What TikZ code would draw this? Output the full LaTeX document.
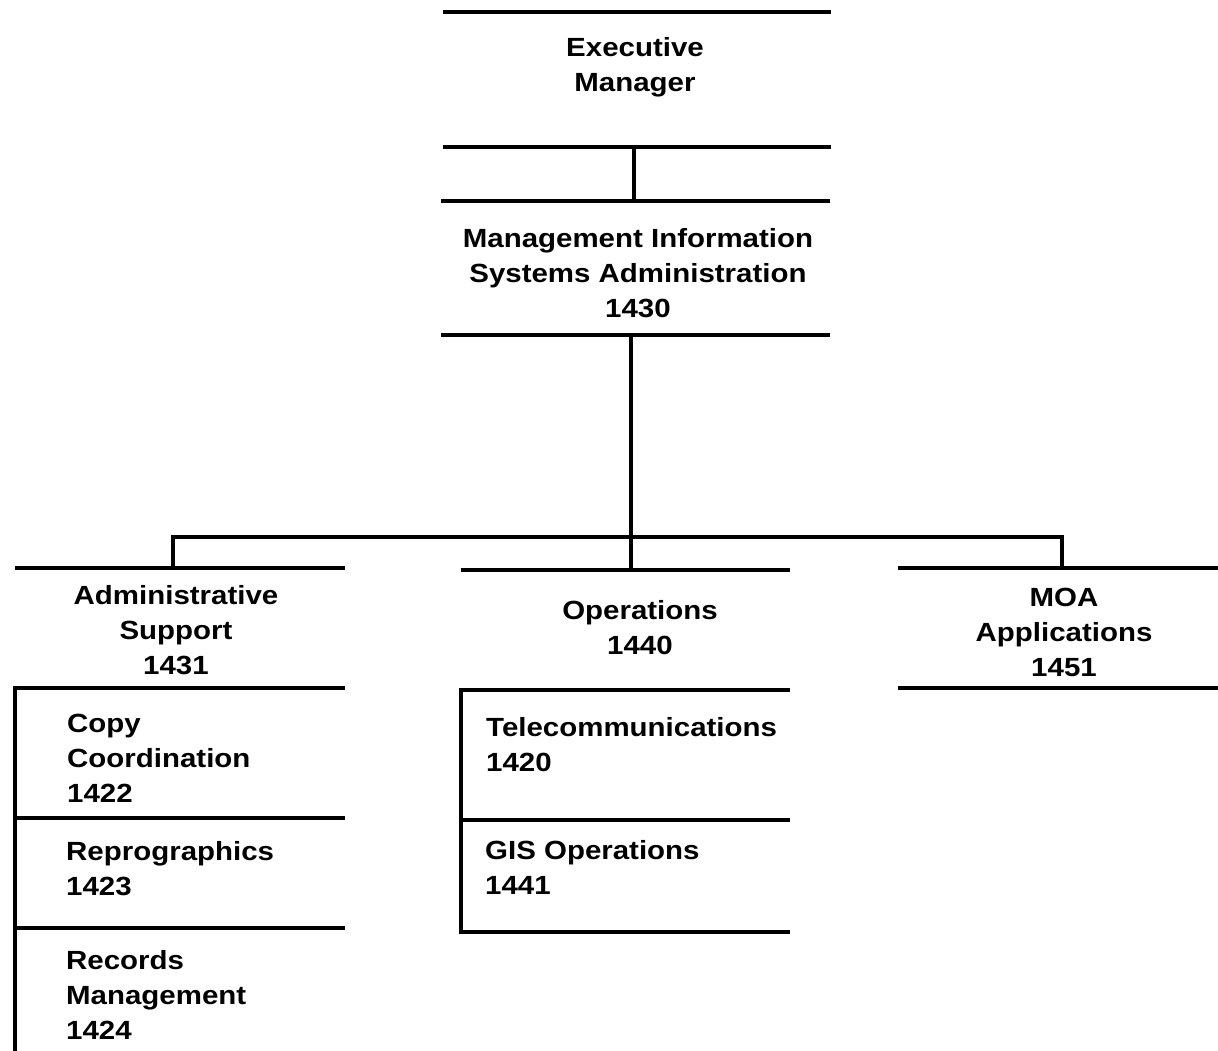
\documentclass[tikz,border=0pt]{standalone}
\usepackage{fontspec}
\setmainfont{Liberation Sans}[FakeStretch=1.12]
\begin{document}
\begin{tikzpicture}[x=1pt,y=-1pt,
  bar/.style={line width=3.8pt},
  conn/.style={line width=3.5pt,line cap=rect},
  box/.style={shape=rectangle,inner sep=0pt,draw=none},
  lbl/.style={inner sep=0pt,font=\bfseries\fontsize{26.3}{35}\selectfont},
  clbl/.style={lbl,align=center,anchor=base},
  llbl/.style={lbl,align=left,anchor=base west}]
\useasboundingbox (0,0) rectangle (1218,1051);
% boxes
\node[box,minimum width=388pt,minimum height=135pt] (exec) at (637,79.5) {};
\node[box,minimum width=389pt,minimum height=134pt] (mis) at (635.5,268) {};
\node[box,minimum width=330pt,minimum height=120pt] (adm) at (180,628) {};
\node[box,minimum width=329pt,minimum height=120pt] (ops) at (625.5,630) {};
\node[box,minimum width=320pt,minimum height=120pt] (moa) at (1058,628) {};
\node[box,minimum width=330pt,minimum height=130pt] (copy) at (180,753) {};
\node[box,minimum width=330pt,minimum height=110pt] (repro) at (180,873) {};
\node[box,minimum width=330pt,minimum height=123pt] (rec) at (180,989.5) {};
\node[box,minimum width=329pt,minimum height=130pt] (tele) at (625.5,755) {};
\node[box,minimum width=329pt,minimum height=112pt] (gis) at (625.5,876) {};
% labels (anchor = baseline of last line)
\node[clbl] (execT) at (635,92) {Executive\\Manager};
\node[clbl] (misT) at (638,317) {Management Information\\Systems Administration\\1430};
\node[clbl] (admT) at (176,674) {Administrative\\Support\\1431};
\node[clbl] (opsT) at (640,654) {Operations\\1440};
\node[clbl] (moaT) at (1064,676) {MOA\\Applications\\1451};
\node[llbl] (copyT) at (67,802) {Copy\\Coordination\\1422};
\node[llbl] (reproT) at (66,895) {Reprographics\\1423};
\node[llbl] (recT) at (66,1039) {Records\\Management\\1424};
\node[llbl] (teleT) at (486,771) {Telecommunications\\1420};
\node[llbl] (gisT) at (485,894) {GIS Operations\\1441};
% bars
\foreach \n in {exec,mis,adm,ops,moa} {
  \draw[bar] (\n.north west) -- (\n.north east);
  \draw[bar] (\n.south west) -- (\n.south east);
}
\draw[bar] (copy.south west) -- (copy.south east);
\draw[bar] (repro.south west) -- (repro.south east);
\draw[bar] (tele.south west) -- (tele.south east);
\draw[bar] (gis.south west) -- (gis.south east);
\draw[conn] (copy.north west) -- (rec.south west);
\draw[conn] (tele.north west) -- (gis.south west);
% connectors
\coordinate (busC) at (631,537);
\coordinate (busL) at (173,537);
\coordinate (busR) at (1062,537);
\coordinate (topC) at (634,147);
\draw[conn] (topC |- exec.south) -- (topC |- mis.north);
\draw[conn] (busC |- mis.south) -- (busC |- ops.north);
\draw[conn,line join=miter] (busL |- adm.north) -- (busL) -- (busR) -- (busR |- moa.north);
\end{tikzpicture}
\end{document}
